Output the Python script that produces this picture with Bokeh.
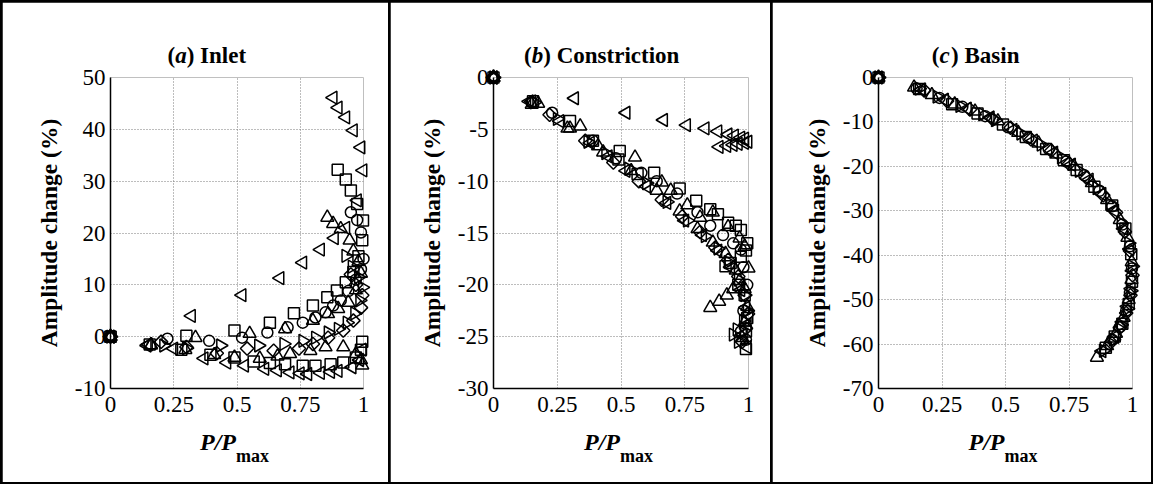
import math
from bokeh.plotting import figure
from bokeh.models import FixedTicker, Range1d
from bokeh.layouts import row
from bokeh.core.properties import value
from bokeh.embed import file_html
from bokeh.resources import INLINE

# ---------------- data ----------------
X_TICKS = [0, 0.25, 0.5, 0.75, 1]
X_TICK_LABELS = ["0", "0.25", "0.5", "0.75", "1"]
Y_TICKS_A = [-10, 0, 10, 20, 30, 40, 50]
Y_TICKS_B = [-30, -25, -20, -15, -10, -5, 0]
Y_TICKS_C = [-70, -60, -50, -40, -30, -20, -10, 0]
TITLE_A = ["(", "a", ") Inlet"]
TITLE_B = ["(", "b", ") Constriction"]
TITLE_C = ["(", "c", ") Basin"]
Y_LABEL = "Amplitude change (%)"
X_LABEL_MAIN = "P/P"
X_LABEL_SUB = "max"

# (a) Inlet
a_sq1_x = [0, 0.30, 0.49, 0.63, 0.725, 0.80, 0.857, 0.895, 0.93, 0.96, 0.98, 0.995, 0.998, 0.975, 0.95, 0.93, 0.898]
a_sq1_y = [0, 0.2, 1.2, 2.7, 4.5, 6.0, 7.6, 8.9, 10.5, 12.5, 15.5, 18.6, 22.4, 25.6, 28.2, 30.3, 32.2]
a_sq2_x = [0, 0.155, 0.28, 0.395, 0.49, 0.566, 0.63, 0.69, 0.76, 0.81, 0.87, 0.92, 0.97, 0.99, 0.995]
a_sq2_y = [0, -1.5, -2.5, -3.5, -4.0, -4.8, -5.1, -5.3, -5.6, -5.6, -5.3, -5.0, -4.0, -2.5, -1.0]
a_ci_x = [0, 0.225, 0.39, 0.52, 0.62, 0.70, 0.76, 0.81, 0.85, 0.88, 0.91, 0.94, 0.97, 0.99, 1.0, 0.99, 0.975, 0.95]
a_ci_y = [0, -0.4, -0.8, -0.2, 0.8, 1.8, 2.7, 3.7, 4.7, 6.0, 7.0, 8.8, 11.0, 13.0, 15.0, 20.1, 22.5, 24.0]
a_tr1_x = [0, 0.16, 0.336, 0.55, 0.69, 0.80, 0.86, 0.90, 0.94, 0.97, 0.99, 0.98, 0.96, 0.945, 0.91, 0.88, 0.857]
a_tr1_y = [0, -1.6, -0.2, 0.6, 1.5, 3.1, 4.4, 5.4, 6.6, 9.0, 12.2, 14.5, 16.5, 18.6, 20.8, 21.8, 23.0]
a_tr2_x = [0, 0.16, 0.296, 0.41, 0.49, 0.59, 0.66, 0.71, 0.79, 0.85, 0.92, 0.97, 0.99, 0.995]
a_tr2_y = [0, -1.6, -2.5, -3.5, -4.0, -4.2, -3.8, -3.3, -2.7, -2.0, -2.0, -3.3, -4.5, -5.5]
a_lt1_x = [0, 0.15, 0.32, 0.52, 0.67, 0.76, 0.83, 0.885, 0.93, 0.976, 0.998, 0.99, 0.96, 0.93, 0.90, 0.88]
a_lt1_y = [0, -1.5, 4.0, 8.0, 11.3, 14.3, 16.8, 19.0, 21.0, 26.3, 32.1, 36.5, 39.8, 42.3, 44.2, 46.1]
a_lt2_x = [0, 0.145, 0.25, 0.37, 0.46, 0.53, 0.61, 0.66, 0.71, 0.75, 0.78, 0.83, 0.87, 0.90, 0.955, 0.985, 0.995]
a_lt2_y = [0, -1.7, -2.3, -4.2, -5.0, -5.6, -6.2, -6.5, -6.9, -7.1, -7.2, -7.0, -6.8, -6.6, -5.9, -4.5, -2.5]
a_rt_x = [0, 0.21, 0.30, 0.435, 0.585, 0.685, 0.76, 0.81, 0.86, 0.90, 0.935, 0.965, 0.985, 0.995, 0.98, 0.955, 0.93]
a_rt_y = [0, -1.7, -2.2, -1.7, -1.7, -1.4, -0.8, -0.2, 0.8, 1.5, 2.7, 4.5, 7.0, 9.5, 11.5, 13.5, 15.6]
a_dm_x = [0, 0.20, 0.30, 0.42, 0.54, 0.645, 0.745, 0.80, 0.86, 0.92, 0.96, 0.99, 0.995, 0.97, 0.95]
a_dm_y = [0, -1.0, -2.0, -3.2, -2.3, -2.7, -2.3, -1.4, -0.2, 1.2, 3.1, 5.6, 8.0, 10.0, 12.0]

# (b) Constriction
b_lt1_x = [0, 0.15, 0.318, 0.52, 0.667, 0.757, 0.83, 0.88, 0.92, 0.945, 0.97, 0.985, 0.998, 0.985, 0.96, 0.94, 0.915, 0.885]
b_lt1_y = [0, -2.3, -2.0, -3.4, -4.1, -4.6, -4.9, -5.2, -5.5, -5.6, -5.8, -5.9, -6.2, -6.3, -6.4, -6.5, -6.6, -6.7]
b_sq_x = [0, 0.155, 0.30, 0.39, 0.49, 0.495, 0.565, 0.63, 0.73, 0.795, 0.85, 0.88, 0.92, 0.95, 0.97, 0.995, 0.99, 0.97, 0.93, 0.91, 0.96, 0.985, 0.995, 0.99, 0.99]
b_sq_y = [0, -2.3, -4.2, -6.1, -7.9, -7.1, -9.3, -9.2, -10.7, -11.9, -12.7, -13.2, -14.0, -14.3, -14.7, -16.0, -16.7, -17.3, -17.9, -18.2, -20.0, -21.0, -23.2, -24.5, -26.2]
b_tr1_x = [0, 0.175, 0.30, 0.34, 0.41, 0.555, 0.66, 0.695, 0.76, 0.81, 0.86, 0.92, 0.965, 0.985, 1.0, 0.965, 0.94, 0.915, 0.885, 0.85]
b_tr1_y = [0, -2.5, -4.9, -4.7, -6.6, -7.7, -10.1, -10.9, -12.3, -13.5, -13.0, -14.4, -15.5, -16.3, -18.4, -19.6, -20.4, -21.0, -21.6, -22.2]
b_tr2_x = [0, 0.15, 0.29, 0.43, 0.54, 0.64, 0.73, 0.80, 0.86, 0.91, 0.95, 0.985, 0.995, 0.985, 0.975]
b_tr2_y = [0, -2.6, -4.9, -7.2, -9.0, -10.9, -12.9, -14.6, -15.9, -17.0, -18.6, -20.4, -22.1, -23.6, -25.1]
b_ci_x = [0, 0.15, 0.23, 0.39, 0.48, 0.58, 0.64, 0.72, 0.80, 0.85, 0.90, 0.94, 0.97, 0.98, 0.995, 0.98, 0.97, 0.99]
b_ci_y = [0, -2.4, -3.4, -6.1, -7.8, -9.2, -10.0, -11.2, -13.0, -14.3, -15.2, -16.0, -16.6, -18.3, -20.0, -22.5, -24.5, -25.3]
b_rt_x = [0, 0.16, 0.25, 0.37, 0.44, 0.53, 0.60, 0.68, 0.76, 0.83, 0.88, 0.92, 0.96, 0.985, 0.995, 0.98, 0.955, 0.94, 0.96]
b_rt_y = [0, -2.4, -4.0, -6.2, -7.3, -8.8, -10.2, -12.0, -13.8, -15.3, -16.5, -17.8, -19.5, -21.0, -22.5, -23.5, -24.3, -24.8, -25.5]
b_dm_x = [0, 0.22, 0.36, 0.47, 0.57, 0.66, 0.74, 0.81, 0.87, 0.92, 0.96, 0.985, 0.998, 0.99, 0.975]
b_dm_y = [0, -3.6, -6.1, -8.2, -10.0, -11.8, -13.4, -14.9, -16.4, -17.6, -19.2, -21.0, -22.8, -24.2, -25.5]
b_lt2_x = [0, 0.14, 0.26, 0.38, 0.45, 0.52, 0.60, 0.68, 0.75, 0.82, 0.88, 0.93, 0.97, 0.99, 0.995, 0.98, 0.995]
b_lt2_y = [0, -2.3, -4.2, -6.3, -7.6, -9.0, -10.5, -12.1, -13.8, -15.2, -16.7, -18.3, -20.5, -22.2, -23.8, -24.8, -26.0]

# (c) Basin
c_sq_x = [0, 0.16, 0.29, 0.39, 0.49, 0.58, 0.66, 0.73, 0.78, 0.85, 0.92, 0.972, 0.995, 0.998, 0.985, 0.96, 0.93, 0.895]
c_sq_y = [0, -2.6, -6.0, -8.1, -10.6, -13.4, -16.1, -18.6, -20.8, -24.6, -28.8, -34.0, -39.8, -46.0, -51.0, -55.4, -58.3, -60.8]
c_ci_x = [0, 0.15, 0.24, 0.33, 0.42, 0.51, 0.59, 0.67, 0.74, 0.81, 0.87, 0.92, 0.96, 0.99, 0.998, 0.99, 0.975, 0.95, 0.92]
c_ci_y = [0, -2.5, -4.6, -6.6, -8.7, -11.2, -13.6, -16.1, -18.9, -22.0, -25.5, -29.0, -33.1, -38.0, -43.0, -48.5, -52.5, -56.2, -59.0]
c_tr_x = [0, 0.14, 0.21, 0.30, 0.38, 0.47, 0.55, 0.63, 0.70, 0.77, 0.84, 0.90, 0.95, 0.98, 0.997, 0.996, 0.985, 0.965, 0.935, 0.90, 0.86]
c_tr_y = [0, -2.2, -3.9, -6.0, -7.6, -9.8, -12.4, -14.8, -17.3, -20.0, -23.7, -27.5, -32.0, -36.0, -41.5, -45.5, -50.0, -54.0, -57.6, -60.4, -63.0]
c_lt_x = [0, 0.17, 0.26, 0.35, 0.44, 0.53, 0.61, 0.69, 0.76, 0.83, 0.88, 0.93, 0.965, 0.99, 1.0, 0.995, 0.98, 0.96, 0.93, 0.88]
c_lt_y = [0, -2.7, -5.0, -7.0, -9.0, -11.8, -14.2, -16.9, -19.6, -23.0, -26.2, -30.0, -34.0, -38.6, -43.5, -47.5, -51.5, -55.0, -58.4, -61.6]
c_rt_x = [0, 0.16, 0.23, 0.32, 0.41, 0.46, 0.56, 0.64, 0.72, 0.79, 0.86, 0.91, 0.955, 0.985, 0.999, 0.993, 0.98, 0.955, 0.925, 0.885]
c_rt_y = [0, -2.5, -4.3, -6.4, -8.3, -9.6, -12.6, -15.1, -18.0, -21.0, -24.9, -28.5, -32.8, -37.3, -42.5, -48.0, -52.0, -55.7, -59.0, -61.5]
c_dm_x = [0, 0.18, 0.27, 0.36, 0.45, 0.52, 0.60, 0.68, 0.75, 0.82, 0.885, 0.935, 0.97, 0.99, 1.0, 0.992, 0.975, 0.95, 0.915]
c_dm_y = [0, -2.9, -5.3, -7.2, -9.4, -11.3, -13.9, -16.5, -19.4, -22.6, -26.5, -30.4, -34.7, -39.0, -44.5, -49.0, -53.0, -56.3, -59.6]

# ---------------- styling ----------------
SERIF = "Liberation Serif"
MARKERS = {
    "circle": dict(marker="circle", size=11, angle=0.0),
    "square": dict(marker="square", size=11, angle=0.0),
    "up": dict(marker="triangle", size=13, angle=0.0),
    "left": dict(marker="triangle", size=13, angle=math.pi / 2),
    "right": dict(marker="triangle", size=13, angle=-math.pi / 2),
    "diamond": dict(marker="square", size=9.5, angle=math.pi / 4),
}

HEIGHT = 480
TOP = 75
FRAME_H = 311
PANELS = [
    dict(title=TITLE_A, yticks=Y_TICKS_A, title_x=0.225, width=386, bl=108, br=25,
         series=[(a_sq1_x, a_sq1_y, "square"), (a_sq2_x, a_sq2_y, "square"),
                 (a_ci_x, a_ci_y, "circle"), (a_tr1_x, a_tr1_y, "up"),
                 (a_tr2_x, a_tr2_y, "up"), (a_lt1_x, a_lt1_y, "left"),
                 (a_lt2_x, a_lt2_y, "left"), (a_rt_x, a_rt_y, "right"),
                 (a_dm_x, a_dm_y, "diamond")]),
    dict(title=TITLE_B, yticks=Y_TICKS_B, title_x=0.12, width=380, bl=103, br=22,
         series=[(b_lt1_x, b_lt1_y, "left"), (b_sq_x, b_sq_y, "square"),
                 (b_tr1_x, b_tr1_y, "up"), (b_tr2_x, b_tr2_y, "up"),
                 (b_ci_x, b_ci_y, "circle"), (b_rt_x, b_rt_y, "right"),
                 (b_dm_x, b_dm_y, "diamond"), (b_lt2_x, b_lt2_y, "left")]),
    dict(title=TITLE_C, yticks=Y_TICKS_C, title_x=0.21, width=379, bl=106, br=19,
         series=[(c_sq_x, c_sq_y, "square"), (c_ci_x, c_ci_y, "circle"),
                 (c_tr_x, c_tr_y, "up"), (c_lt_x, c_lt_y, "left"),
                 (c_rt_x, c_rt_y, "right"), (c_dm_x, c_dm_y, "diamond")]),
]

TITLE_OFFSETS = [0, 7.7, 19.2]  # pixel offsets of "(", letter, ")..." at 23px
TITLE_STYLES = ["bold", "bold italic", "bold"]


def put_text(p, x, y, txt, dx, dy, size, style):
    p.text(x=[x], y=[y], text=[txt], x_offset=dx, y_offset=dy,
           text_font=value(SERIF), text_font_size=value(size),
           text_font_style=value(style), text_color="black",
           text_baseline=value("alphabetic"), text_align=value("left"),
           level="overlay")


figs = []
for pan in PANELS:
    ymin, ymax = pan["yticks"][0], pan["yticks"][-1]
    p = figure(width=pan["width"], height=HEIGHT, output_backend="svg",
               toolbar_location=None, x_range=Range1d(0, 1),
               y_range=Range1d(ymin, ymax),
               min_border_left=pan["bl"], min_border_right=pan["br"],
               min_border_top=TOP, min_border_bottom=HEIGHT - TOP - FRAME_H)
    p.outline_line_color = None
    p.background_fill_color = "white"
    p.border_fill_color = "white"

    for ax, ticks, labels in ((p.xaxis[0], X_TICKS, X_TICK_LABELS),
                              (p.yaxis[0], pan["yticks"], [str(t) for t in pan["yticks"]])):
        ax.ticker = FixedTicker(ticks=ticks)
        ax.major_label_overrides = {t: l for t, l in zip(ticks, labels)}
        ax.major_label_text_font = SERIF
        ax.major_label_text_font_size = "23px"
        ax.major_label_text_color = "black"
        ax.axis_line_color = "black"
        ax.axis_line_width = 1.5
        ax.major_tick_line_color = None
        ax.minor_tick_line_color = None
        ax.major_tick_out = 0
        ax.major_tick_in = 0
    p.xaxis[0].major_label_standoff = 8
    p.yaxis[0].major_label_standoff = 5
    p.yaxis[0].axis_label = Y_LABEL
    p.yaxis[0].axis_label_text_font = SERIF
    p.yaxis[0].axis_label_text_font_style = "bold"
    p.yaxis[0].axis_label_text_font_size = "23.5px"
    p.yaxis[0].axis_label_text_color = "black"
    p.yaxis[0].axis_label_standoff = 10

    p.xgrid.ticker = FixedTicker(ticks=X_TICKS)
    p.ygrid.ticker = FixedTicker(ticks=pan["yticks"])
    for g in (p.xgrid[0], p.ygrid[0]):
        g.grid_line_color = "#7a7a7a"
        g.grid_line_dash = "1 2"
        g.grid_line_width = 1

    for xs, ys, style in pan["series"]:
        m = MARKERS[style]
        p.scatter(xs, ys, marker=m["marker"], size=m["size"], angle=m["angle"],
                  fill_color=None, line_color="black", line_width=1.5,
                  level="overlay")

    for txt, dx, st in zip(pan["title"], TITLE_OFFSETS, TITLE_STYLES):
        put_text(p, pan["title_x"], ymax, txt, dx, -22, "23px", st)
    put_text(p, 0.5, ymin, X_LABEL_MAIN, -37, 53, "24px", "bold italic")
    put_text(p, 0.5, ymin, X_LABEL_SUB, -1, 67, "18px", "bold")
    figs.append(p)

layout = row(*figs, spacing=2,
             styles={"background-color": "black", "padding": "2px"})

open("out.html", "w").write(file_html(layout, INLINE))
